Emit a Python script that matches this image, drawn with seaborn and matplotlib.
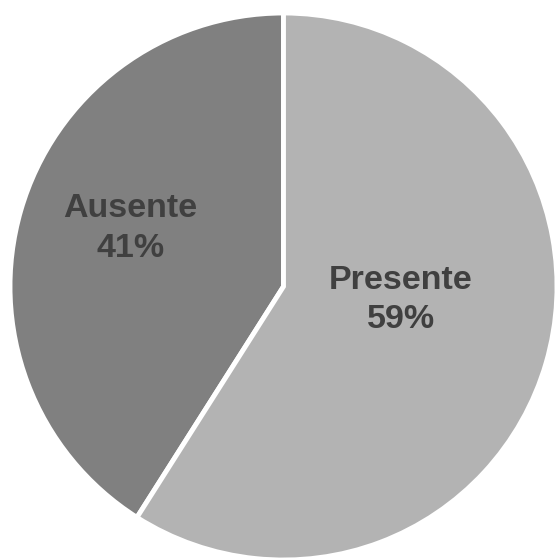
import matplotlib
matplotlib.use("Agg")
import matplotlib.pyplot as plt
import seaborn as sns

# Share of cases by status
categories = ["Ausente", "Presente"]
shares = [41, 59]
slice_colors = ["#808080", "#b3b3b3"]

sns.set_theme(style="white")
plt.rcParams["font.family"] = ["Liberation Sans", "DejaVu Sans"]

W, H = 558, 559
fig = plt.figure(figsize=(W / 100, H / 100), dpi=100)
ax = fig.add_axes([0, 0, 1, 1])

wedges, _ = ax.pie(
    shares,
    colors=slice_colors,
    startangle=90,
    counterclock=True,
    radius=1.0,
    wedgeprops=dict(edgecolor="white", linewidth=3.5),
)

# label placement (offsets from the pie centre)
label_pos = [(-0.56, 0.212), (0.43, -0.05)]
for name, val, (lx, ly) in zip(categories, shares, label_pos):
    ax.text(lx, ly, f"{name}\n{val}%", ha="center", va="center",
            fontsize=24.5, fontweight="bold", color="#404040",
            linespacing=1.34)

# pie centre at (283.5, 286.5) px, radius 273.5 px
cx, cy, r = 283.5, 286.5, 273.5
ax.set_xlim(-cx / r, (W - cx) / r)
ax.set_ylim(-(H - cy) / r, cy / r)
ax.set_aspect("auto")
ax.axis("off")

fig.savefig("out.png", dpi=100, facecolor="white")
